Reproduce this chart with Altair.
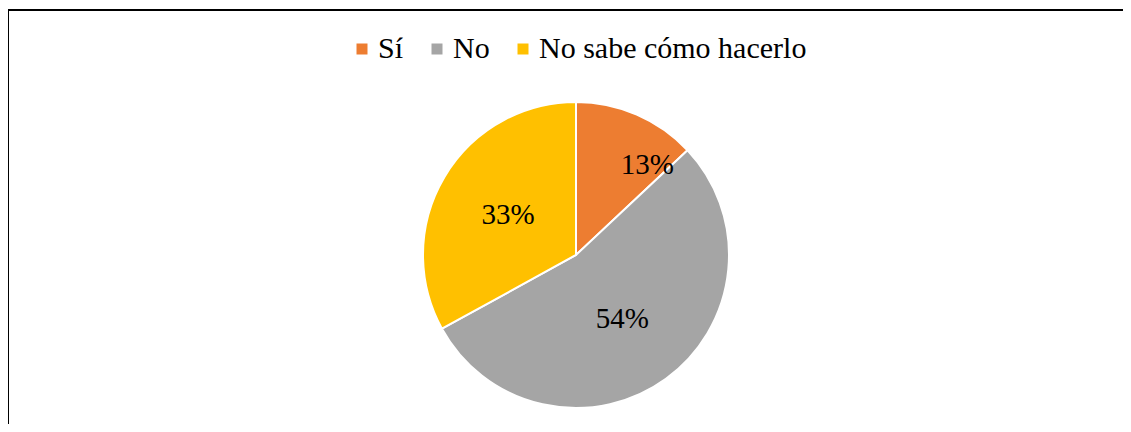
import altair as alt
import pandas as pd

categorias = ["Sí", "No", "No sabe cómo hacerlo"]
valores = [13, 54, 33]
colores = ["#ED7D31", "#A5A5A5", "#FFC000"]

df = pd.DataFrame({"cat": categorias, "valor": valores, "orden": list(range(len(categorias)))})

FONT = "'Liberation Serif', 'Times New Roman', Times, serif"
W, H = 1114, 414
CX, CY = 567, 245
R = 153

base = alt.Chart(df).transform_calculate(label="datum.valor + '%'")

theta = alt.Theta("valor:Q", stack=True)
order = alt.Order("orden:Q", sort="ascending")

pie = base.mark_arc(outerRadius=R, stroke="white", strokeWidth=2).encode(
    theta=theta,
    order=order,
    x=alt.value(CX),
    y=alt.value(CY),
    color=alt.Color(
        "cat:N",
        scale=alt.Scale(domain=categorias, range=colores),
        sort=categorias,
        legend=alt.Legend(
            title=None,
            orient="none",
            direction="horizontal",
            legendX=338,
            legendY=24,
            symbolType="square",
            symbolSize=121,
            symbolStrokeWidth=0,
            labelFont=FONT,
            labelFontSize=30,
            labelColor="black",
            labelOffset=1,
            columnPadding=18,
            labelLimit=500,
        ),
    ),
)

labels_a = base.mark_text(radius=79, font=FONT, fontSize=29, color="black").encode(
    theta=theta,
    order=order,
    x=alt.value(CX),
    y=alt.value(CY),
    text=alt.condition("datum.cat !== 'Sí'", "label:N", alt.value("")),
)

labels_b = base.mark_text(radius=79, dx=40, dy=-17, font=FONT, fontSize=29, color="black").encode(
    theta=theta,
    order=order,
    x=alt.value(CX),
    y=alt.value(CY),
    text=alt.condition("datum.cat === 'Sí'", "label:N", alt.value("")),
)

marco = alt.Chart(pd.DataFrame({"k": [0]}))
top_rule = marco.mark_rule(color="black", strokeWidth=2).encode(
    x=alt.value(-2), x2=alt.value(W + 5), y=alt.value(0)
)
left_rule = marco.mark_rule(color="black", strokeWidth=2).encode(
    x=alt.value(-1), y=alt.value(-1), y2=alt.value(H + 5)
)

chart = (
    alt.layer(pie, labels_a, labels_b, top_rule, left_rule)
    .properties(
        width=W,
        height=H,
        autosize=alt.AutoSizeParams(type="none"),
        padding={"left": 1, "top": 2, "right": 0, "bottom": 0},
    )
    .configure(font=FONT)
    .configure_text(font=FONT)
    .configure_view(stroke=None)
)

chart.save("out.html", embed_options={"renderer": "svg", "actions": False})
